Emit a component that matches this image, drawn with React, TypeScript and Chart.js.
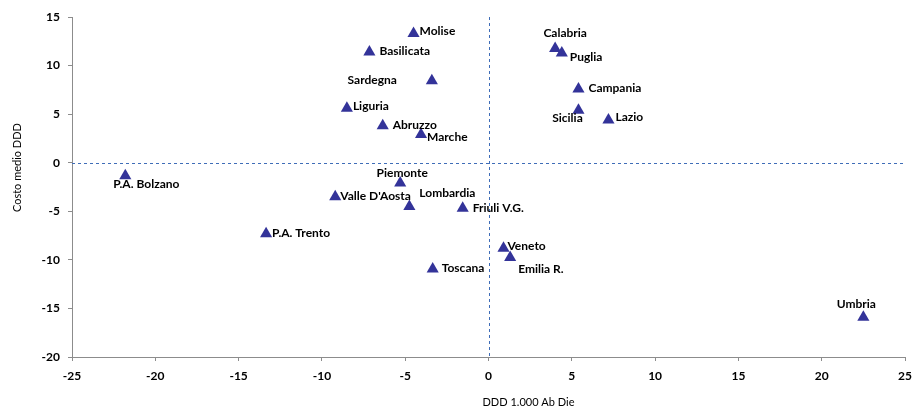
import React, { useEffect, useRef } from "react";
import { Chart, registerables } from "chart.js";

Chart.register(...registerables);

const REGIONS = [
  "Molise", "Basilicata", "Sardegna", "Liguria", "Abruzzo", "Marche",
  "Calabria", "Puglia", "Campania", "Sicilia", "Lazio",
  "P.A. Bolzano", "Piemonte", "Valle D'Aosta", "Lombardia", "Friuli V.G.",
  "P.A. Trento", "Veneto", "Emilia R.", "Toscana", "Umbria",
];

const DDD_X = [
  -4.5, -7.15, -3.4, -8.5, -6.35, -4.05,
  4.0, 4.4, 5.4, 5.4, 7.2,
  -21.8, -5.3, -9.2, -4.75, -1.55,
  -13.35, 0.9, 1.3, -3.35, 22.5,
];

const COSTO_Y = [
  13.3, 11.4, 8.45, 5.6, 3.8, 2.9,
  11.75, 11.3, 7.6, 5.4, 4.4,
  -1.35, -2.1, -3.5, -4.5, -4.7,
  -7.3, -8.8, -9.75, -10.95, -15.9,
];

const X_TITLE = "DDD 1.000 Ab Die";
const Y_TITLE = "Costo medio DDD";

// label placement style: [dx, dy, textAlign]
const LABEL_STYLE: Record<string, [number, number, CanvasTextAlign]> = {
  "Molise": [6, -2, "left"],
  "Basilicata": [10, -1, "left"],
  "Sardegna": [-35, -1, "right"],
  "Liguria": [6, -2, "left"],
  "Abruzzo": [10, -1, "left"],
  "Marche": [6, 3, "left"],
  "Calabria": [10, -15, "center"],
  "Puglia": [8, 4, "left"],
  "Campania": [10, -1, "left"],
  "Sicilia": [-11, 8, "center"],
  "Lazio": [7, -3, "left"],
  "P.A. Bolzano": [21, 8, "center"],
  "Piemonte": [2, -10, "center"],
  "Valle D'Aosta": [5, -1, "left"],
  "Lombardia": [38, -13, "center"],
  "Friuli V.G.": [10, 0, "left"],
  "P.A. Trento": [6, -1, "left"],
  "Veneto": [4, -2, "left"],
  "Emilia R.": [8, 12, "left"],
  "Toscana": [9, -1, "left"],
  "Umbria": [-7, -13, "center"],
};

const FONT = "Lato, 'Open Sans', sans-serif";

const refLines = {
  id: "refLines",
  beforeDatasetsDraw(chart: any) {
    const { ctx, chartArea, scales } = chart;
    const x0 = Math.round(scales.x.getPixelForValue(0)) + 0.5;
    const y0 = Math.round(scales.y.getPixelForValue(0)) + 0.5;
    ctx.save();
    ctx.strokeStyle = "#3F6DB8";
    ctx.lineWidth = 1;
    ctx.setLineDash([3, 3]);
    ctx.beginPath();
    ctx.moveTo(x0, chartArea.top);
    ctx.lineTo(x0, chartArea.bottom);
    ctx.moveTo(chartArea.left, y0);
    ctx.lineTo(chartArea.right, y0);
    ctx.stroke();
    ctx.restore();
  },
};

const pointLabels = {
  id: "pointLabels",
  afterDatasetsDraw(chart: any) {
    const { ctx } = chart;
    const meta = chart.getDatasetMeta(0);
    ctx.save();
    ctx.font = `bold 12px ${FONT}`;
    ctx.fillStyle = "#000";
    ctx.textBaseline = "middle";
    meta.data.forEach((el: any, i: number) => {
      const name = REGIONS[i];
      const st = LABEL_STYLE[name] || [6, 0, "left"];
      ctx.textAlign = st[2];
      ctx.fillText(name, el.x + st[0], el.y + st[1]);
    });
    ctx.restore();
  },
};

const axisTitles = {
  id: "axisTitles",
  afterDraw(chart: any) {
    const { ctx, scales } = chart;
    ctx.save();
    ctx.font = `11px ${FONT}`;
    ctx.fillStyle = "#000";
    ctx.textAlign = "center";
    ctx.textBaseline = "middle";
    // x title sits under the right half of the axis
    ctx.fillText(X_TITLE, scales.x.getPixelForValue(2.4), 402);
    // y title centred near the zero line
    ctx.translate(17, scales.y.getPixelForValue(-0.5));
    ctx.rotate(-Math.PI / 2);
    ctx.fillText(Y_TITLE, 0, 0);
    ctx.restore();
  },
};

export default function App() {
  const ref = useRef<HTMLCanvasElement | null>(null);
  useEffect(() => {
    document.body.style.margin = "0";
    const data = DDD_X.map((x, i) => ({ x, y: COSTO_Y[i] }));
    const chart = new Chart(ref.current as HTMLCanvasElement, {
      type: "scatter",
      data: {
        datasets: [
          {
            label: "Regioni",
            data,
            pointStyle: "triangle",
            pointRadius: 7,
            pointHoverRadius: 7,
            backgroundColor: "#333399",
            borderColor: "#333399",
            borderWidth: 0,
          },
        ],
      },
      options: {
        responsive: true,
        maintainAspectRatio: false,
        animation: false,
        layout: { padding: { top: 17, right: 8, bottom: 0, left: 0 } },
        plugins: {
          legend: { display: false },
          tooltip: { enabled: false },
        },
        scales: {
          x: {
            type: "linear",
            min: -25,
            max: 25,
            afterFit: (s: any) => {
              s.height = 53;
              s.paddingRight = 0;
              s.paddingLeft = 0;
            },
            ticks: {
              stepSize: 5,
              color: "#000",
              padding: 8,
              font: { family: FONT, size: 12, weight: "bold" },
            },
            grid: { drawOnChartArea: false, drawTicks: true, tickLength: 4, color: "#8c8c8c" },
            border: { color: "#8c8c8c" },
          },
          y: {
            type: "linear",
            min: -20,
            max: 15,
            afterFit: (s: any) => { s.width = 72; },
            ticks: {
              stepSize: 5,
              color: "#000",
              padding: 8,
              font: { family: FONT, size: 12, weight: "bold" },
            },
            grid: { drawOnChartArea: false, drawTicks: true, tickLength: 4, color: "#8c8c8c" },
            border: { color: "#8c8c8c" },
          },
        },
      },
      plugins: [refLines, pointLabels, axisTitles],
    });
    return () => chart.destroy();
  }, []);
  return (
    <div style={{ position: "relative", width: 913, height: 410 }}>
      <canvas ref={ref} />
    </div>
  );
}
